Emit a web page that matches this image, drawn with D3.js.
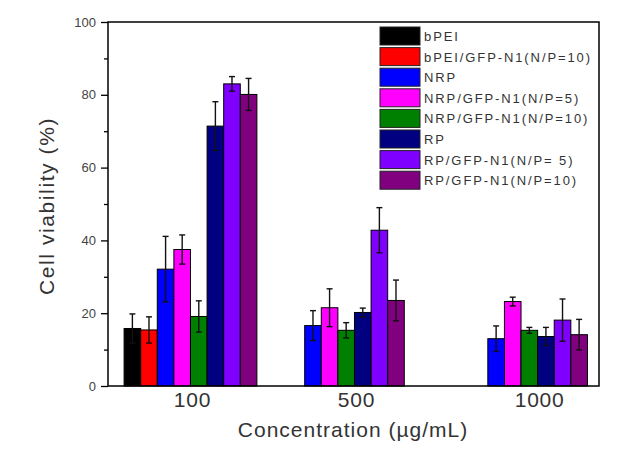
<!DOCTYPE html>
<html>
<head>
<meta charset="utf-8">
<script src="https://cdn.jsdelivr.net/npm/d3@7"></script>
<style>
  body { margin: 0; background: #fff; }
  svg { display: block; font-family: Arial, "Liberation Sans", sans-serif; }
</style>
</head>
<body>
<svg id="chart" width="643" height="456"></svg>
<script>
// --- data ---
const concentrations = [100, 500, 1000];
const seriesNames = [
  "bPEI", "bPEI/GFP-N1(N/P=10)", "NRP", "NRP/GFP-N1(N/P=5)",
  "NRP/GFP-N1(N/P=10)", "RP", "RP/GFP-N1(N/P= 5)", "RP/GFP-N1(N/P=10)"
];
const seriesColors = ["#000000", "#ff0000", "#0000ff", "#ff00ff", "#008000", "#000080", "#8000ff", "#800080"];
// one row per concentration, one value per series (null = not measured)
const viability = [
  [15.8, 15.4, 32.1, 37.5, 19.1, 71.4, 83.0, 80.1],
  [null, null, 16.6, 21.5, 15.3, 20.2, 42.8, 23.5],
  [null, null, 13.0, 23.2, 15.3, 13.6, 18.1, 14.1]
];
const errors = [
  [4.0, 3.6, 9.0, 4.0, 4.3, 6.7, 2.0, 4.4],
  [null, null, 4.1, 5.2, 2.1, 1.2, 6.2, 5.6],
  [null, null, 3.5, 1.2, 0.8, 2.5, 5.8, 4.2]
];
const yTicks = [0, 20, 40, 60, 80, 100];
const yMinorTicks = [10, 30, 50, 70, 90];

const svg = d3.select("#chart");
const margin = { top: 22, right: 44, bottom: 70, left: 108 };
const width = 643 - margin.left - margin.right;
const height = 456 - margin.top - margin.bottom;
const g = svg.append("g").attr("transform", `translate(${margin.left},${margin.top})`);

// groups are not evenly spaced in the original, so use a piecewise scale
const x = d3.scaleLinear().domain(concentrations).range([0.168, 0.502, 0.875].map(f => f * width));
const y = d3.scaleLinear().domain([0, 100]).range([height, 0]);
const barW = 16.6;

concentrations.forEach((c, gi) => {
  const bars = viability[gi]
    .map((v, si) => ({ v, e: errors[gi][si], si }))
    .filter(d => d.v !== null);
  const start = x(c) - bars.length * barW / 2;
  const grp = g.append("g");

  grp.selectAll("rect").data(bars).enter().append("rect")
    .attr("x", (d, i) => start + i * barW)
    .attr("y", d => y(d.v))
    .attr("width", barW)
    .attr("height", d => y(0) - y(d.v))
    .attr("fill", d => seriesColors[d.si])
    .attr("stroke", "#000")
    .attr("stroke-width", 1);

  // error bars
  const eb = grp.selectAll(".err").data(bars).enter().append("g").attr("class", "err")
    .attr("stroke", "#111").attr("stroke-width", 1.4);
  const cx = (d, i) => start + i * barW + barW / 2;
  eb.append("line")
    .attr("x1", cx).attr("x2", cx)
    .attr("y1", d => y(d.v + d.e)).attr("y2", d => y(d.v - d.e));
  eb.append("line")
    .attr("x1", (d, i) => cx(d, i) - 3).attr("x2", (d, i) => cx(d, i) + 3)
    .attr("y1", d => y(d.v + d.e)).attr("y2", d => y(d.v + d.e));
  eb.append("line")
    .attr("x1", (d, i) => cx(d, i) - 3).attr("x2", (d, i) => cx(d, i) + 3)
    .attr("y1", d => y(d.v - d.e)).attr("y2", d => y(d.v - d.e));
});

// y axis
const yAxis = g.append("g")
  .call(d3.axisLeft(y).tickValues(yTicks).tickSize(7).tickPadding(5).tickFormat(d3.format("d")));
yAxis.select(".domain").remove();
yAxis.selectAll("line").attr("stroke", "#000").attr("stroke-width", 1.3);
yAxis.selectAll("text").attr("font-size", 13).attr("fill", "#444");
g.append("g")
  .call(d3.axisLeft(y).tickValues(yMinorTicks).tickSize(4).tickFormat(""))
  .call(a => a.select(".domain").remove())
  .selectAll("line").attr("stroke", "#000").attr("stroke-width", 1.3);

// frame
g.append("rect")
  .attr("width", width).attr("height", height)
  .attr("fill", "none").attr("stroke", "#000").attr("stroke-width", 1.5);

// x labels
g.selectAll(".xlab").data(concentrations).enter().append("text")
  .attr("class", "xlab")
  .attr("x", d => x(d) + 2)
  .attr("y", height + 21)
  .attr("text-anchor", "middle")
  .attr("font-size", 21)
  .attr("letter-spacing", 0.8)
  .attr("fill", "#333")
  .text(d => d);

// axis titles
svg.append("text")
  .attr("x", 353).attr("y", 437)
  .attr("text-anchor", "middle")
  .attr("font-size", 21)
  .attr("letter-spacing", 1)
  .attr("fill", "#333")
  .text("Concentration (\u00b5g/mL)");

svg.append("text")
  .attr("transform", "translate(54,206) rotate(-90)")
  .attr("text-anchor", "middle")
  .attr("font-size", 21)
  .attr("letter-spacing", 1.6)
  .attr("fill", "#333")
  .text("Cell viability (%)");

// legend
const legend = svg.append("g").attr("transform", "translate(380,27)");
const items = legend.selectAll(".item").data(seriesNames).enter().append("g")
  .attr("class", "item")
  .attr("transform", (d, i) => `translate(0,${i * 20.6})`);
items.append("rect")
  .attr("width", 40).attr("height", 18)
  .attr("fill", (d, i) => seriesColors[i])
  .attr("stroke", "#222").attr("stroke-width", 1);
items.append("text")
  .attr("x", 44).attr("y", 14)
  .attr("font-size", 13)
  .attr("letter-spacing", 1.9)
  .attr("fill", "#333")
  .text(d => d);
</script>
</body>
</html>
